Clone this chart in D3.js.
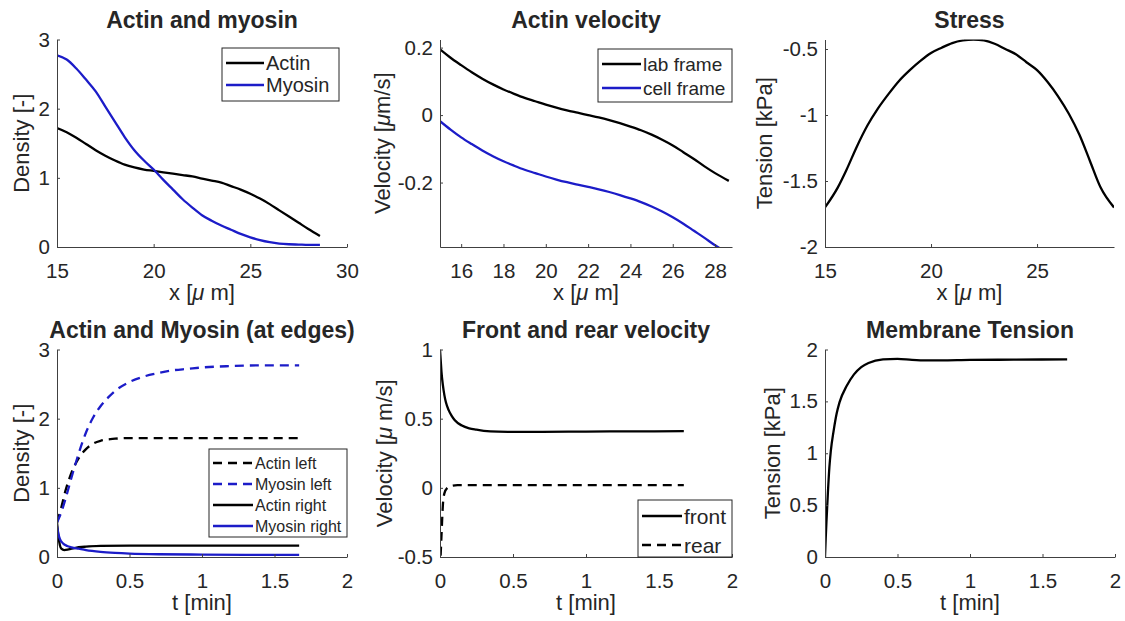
<!DOCTYPE html>
<html>
<head>
<meta charset="utf-8">
<script src="https://cdn.jsdelivr.net/npm/d3@7"></script>
<style>
body { margin:0; background:#fff; }
svg text { font-family:"Liberation Sans", Arial, Helvetica, sans-serif; fill:#262626; }
</style>
</head>
<body>
<svg id="fig" width="1125" height="621"></svg>
<script>
// ---- dados ----
// posicao x [um] (linha de cima)
var xDens = [15,15.5,16,16.5,17,17.5,18,18.5,19,19.5,20,20.5,21,21.5,22,22.5,23,23.5,24,24.5,25,25.5,26,26.5,27,27.5,28,28.6];
var actinDens = [1.72,1.66,1.58,1.49,1.40,1.32,1.25,1.19,1.15,1.12,1.10,1.08,1.06,1.04,1.02,0.99,0.96,0.93,0.88,0.83,0.77,0.70,0.62,0.53,0.44,0.35,0.26,0.16];
var myosinDens = [2.77,2.71,2.58,2.42,2.25,2.03,1.81,1.59,1.40,1.25,1.12,0.97,0.83,0.69,0.57,0.46,0.38,0.31,0.25,0.19,0.14,0.10,0.07,0.05,0.04,0.035,0.03,0.03];

var xVel = [15,15.5,16,16.5,17,17.5,18,18.5,19,19.5,20,20.5,21,21.5,22,22.5,23,23.5,24,24.5,25,25.5,26,26.5,27,27.5,28,28.65];
var labVel = [0.195,0.17,0.148,0.127,0.108,0.091,0.076,0.063,0.051,0.041,0.031,0.022,0.014,0.007,0.0,-0.007,-0.015,-0.024,-0.034,-0.045,-0.058,-0.073,-0.09,-0.11,-0.13,-0.152,-0.172,-0.195];
var cellVel = [-0.018,-0.043,-0.066,-0.086,-0.105,-0.122,-0.137,-0.150,-0.162,-0.172,-0.182,-0.191,-0.199,-0.206,-0.213,-0.220,-0.228,-0.237,-0.247,-0.258,-0.271,-0.286,-0.303,-0.322,-0.343,-0.364,-0.386,-0.41];

var xStress = [15,15.6,16,16.5,17,17.5,18,18.5,19,19.5,20,20.5,21,21.5,22,22.5,23,23.5,24,24.5,25,25.5,26,26.5,27,27.5,28,28.63];
var stress = [-1.70,-1.55,-1.42,-1.24,-1.08,-0.95,-0.84,-0.74,-0.66,-0.59,-0.53,-0.49,-0.455,-0.435,-0.428,-0.435,-0.46,-0.50,-0.54,-0.60,-0.66,-0.75,-0.86,-0.99,-1.15,-1.35,-1.55,-1.70];

// tempo [min] (linha de baixo)
var tActL = [0,0.03,0.06,0.1,0.15,0.2,0.25,0.3,0.4,0.5,0.7,1.0,1.3,1.67];
var actinLeft = [0.5,0.72,0.97,1.22,1.43,1.56,1.64,1.68,1.71,1.72,1.72,1.72,1.72,1.72];
var tMyoL = [0,0.03,0.06,0.1,0.15,0.2,0.25,0.3,0.35,0.4,0.5,0.6,0.7,0.8,0.9,1.0,1.2,1.4,1.67];
var myosinLeft = [0.5,0.65,0.85,1.15,1.5,1.8,2.02,2.18,2.3,2.4,2.53,2.61,2.66,2.7,2.72,2.74,2.76,2.77,2.77];
var tActR = [0,0.01,0.02,0.03,0.05,0.08,0.12,0.2,0.3,0.5,1.0,1.67];
var actinRight = [0.5,0.3,0.17,0.12,0.1,0.11,0.13,0.15,0.16,0.165,0.165,0.165];
var tMyoR = [0,0.01,0.02,0.04,0.07,0.1,0.15,0.2,0.3,0.4,0.5,0.7,1.0,1.3,1.67];
var myosinRight = [0.45,0.33,0.26,0.2,0.16,0.14,0.12,0.1,0.075,0.06,0.05,0.04,0.035,0.032,0.03];

var tFront = [0,0.005,0.01,0.02,0.03,0.04,0.06,0.08,0.1,0.15,0.2,0.25,0.3,0.4,0.5,0.7,1.0,1.3,1.67];
var front = [1.0,0.92,0.84,0.74,0.67,0.62,0.56,0.52,0.49,0.45,0.43,0.42,0.412,0.406,0.405,0.405,0.407,0.408,0.41];
var tRear = [0,0.01,0.02,0.03,0.05,0.08,0.12,0.3,0.6,1.0,1.3,1.67];
var rear = [-0.6,-0.35,-0.12,-0.04,0.0,0.015,0.02,0.02,0.02,0.02,0.02,0.02];

var tTens = [0,0.005,0.01,0.02,0.03,0.04,0.06,0.08,0.1,0.15,0.2,0.25,0.3,0.4,0.5,0.6,0.7,0.8,1.0,1.3,1.67];
var tension = [0,0.18,0.34,0.62,0.86,1.02,1.22,1.38,1.49,1.65,1.76,1.83,1.87,1.905,1.91,1.9,1.895,1.895,1.9,1.902,1.905];

// ticks
var xTicksDens = [15,20,25,30];
var yTicksDens = [0,1,2,3];
var xTicksVel = [16,18,20,22,24,26,28];
var yTicksVel = [-0.2,0,0.2];
var xTicksStress = [15,20,25];
var yTicksStress = [-2,-1.5,-1,-0.5];
var tTicks = [0,0.5,1,1.5,2];
var yTicksEdge = [0,1,2,3];
var yTicksFR = [-0.5,0,0.5,1];
var yTicksTens = [0,0.5,1,1.5,2];

var BLUE = "#1c1cc8";
var AXC = "#404040";
var DASH = "9,6";

var svg = d3.select("#fig");

// rotulos com o mu: [antes, depois]
var panels = [
    {left:57, top:39.5, w:290, h:207.5, xdom:[15,30], ydom:[0,3], xt:xTicksDens, yt:yTicksDens,
     title:"Actin and myosin", xlab:["x [", " m]"], ylab:["Density [-]"], ylx:-36,
     series:[{x:xDens, y:actinDens, c:"#000"}, {x:xDens, y:myosinDens, c:BLUE}],
     legend:{x:222, y:48, w:117, h:53, fs:20, rows:[15,37], ll:38, items:[["Actin","#000",null],["Myosin",BLUE,null]]}},
    {left:440, top:39.5, w:292, h:207.5, xdom:[15,28.8], ydom:[-0.391,0.224], xt:xTicksVel, yt:yTicksVel,
     title:"Actin velocity", xlab:["x [", " m]"], ylab:["Velocity [", "m/s]"], ylx:-58,
     series:[{x:xVel, y:labVel, c:"#000"}, {x:xVel, y:cellVel, c:BLUE}],
     legend:{x:598, y:49, w:134, h:53, fs:19, rows:[15,39], ll:39, items:[["lab frame","#000",null],["cell frame",BLUE,null]]}},
    {left:825, top:39.5, w:289, h:207.5, xdom:[15,28.63], ydom:[-2,-0.428], xt:xTicksStress, yt:yTicksStress,
     title:"Stress", xlab:["x [", " m]"], ylab:["Tension [kPa]"], ylx:-61,
     series:[{x:xStress, y:stress, c:"#000"}]},
    {left:57, top:349.5, w:290, h:207.5, xdom:[0,2], ydom:[0,3], xt:tTicks, yt:yTicksEdge,
     title:"Actin and Myosin (at edges)", xlab:["t [min]"], ylab:["Density [-]"], ylx:-36,
     series:[{x:tActL, y:actinLeft, c:"#000", d:DASH}, {x:tMyoL, y:myosinLeft, c:BLUE, d:DASH},
             {x:tActR, y:actinRight, c:"#000"}, {x:tMyoR, y:myosinRight, c:BLUE}],
     legend:{x:209, y:449, w:138, h:88, fs:16, rows:[14,35,56,77], ll:40,
             items:[["Actin left","#000",DASH],["Myosin left",BLUE,DASH],["Actin right","#000",null],["Myosin right",BLUE,null]]}},
    {left:440, top:349.5, w:292, h:207.5, xdom:[0,2], ydom:[-0.5,1], xt:tTicks, yt:yTicksFR,
     title:"Front and rear velocity", xlab:["t [min]"], ylab:["Velocity [", " m/s]"], ylx:-56,
     series:[{x:tFront, y:front, c:"#000"}, {x:tRear, y:rear, c:"#000", d:DASH}],
     legend:{x:638, y:500, w:94, h:57, fs:21, rows:[16,45], ll:40, items:[["front","#000",null],["rear","#000",DASH]]}},
    {left:825, top:349.5, w:290, h:207.5, xdom:[0,2], ydom:[0,2], xt:tTicks, yt:yTicksTens,
     title:"Membrane Tension", xlab:["t [min]"], ylab:["Tension [kPa]"], ylx:-53,
     series:[{x:tTens, y:tension, c:"#000"}]}
];

function fmt(d) {
    return String(+d.toFixed(2));
}

// texto com mu inclinado no meio (estilo tex do matlab)
function label(sel, parts) {
    sel.append("tspan").text(parts[0]);
    if (parts.length > 1) {
        sel.append("tspan").style("font-style", "italic").text("\u03bc");
        sel.append("tspan").text(parts[1]);
    }
}

panels.forEach(function(p, i) {
    var g = svg.append("g").attr("transform", "translate(" + p.left + "," + p.top + ")");
    var xs = d3.scaleLinear().domain(p.xdom).range([0, p.w]);
    var ys = d3.scaleLinear().domain(p.ydom).range([p.h, 0]);

    g.append("clipPath").attr("id", "clip" + i)
        .append("rect").attr("width", p.w).attr("height", p.h);

    var line = d3.line()
        .x(function(d) { return xs(d[0]); })
        .y(function(d) { return ys(d[1]); })
        .curve(d3.curveMonotoneX);

    var plot = g.append("g").attr("clip-path", "url(#clip" + i + ")");
    p.series.forEach(function(s) {
        plot.append("path")
            .datum(d3.zip(s.x, s.y))
            .attr("d", line)
            .attr("fill", "none")
            .attr("stroke", s.c)
            .attr("stroke-width", 2.3)
            .attr("stroke-dasharray", s.d || null);
    });

    var xa = g.append("g").attr("transform", "translate(0," + p.h + ")")
        .call(d3.axisBottom(xs).tickValues(p.xt).tickFormat(fmt).tickSizeInner(-3).tickSizeOuter(0).tickPadding(16));
    var ya = g.append("g")
        .call(d3.axisLeft(ys).tickValues(p.yt).tickFormat(fmt).tickSizeInner(-3).tickSizeOuter(0).tickPadding(7));
    [xa, ya].forEach(function(a) {
        a.select(".domain").attr("stroke", AXC);
        a.selectAll(".tick line").attr("stroke", AXC);
        a.selectAll(".tick text").style("font-size", "20.5px").attr("fill", "#262626");
    });

    // titulo
    g.append("text")
        .attr("x", p.w / 2).attr("y", -12)
        .attr("text-anchor", "middle")
        .style("font-size", "23px").style("font-weight", "bold")
        .attr("fill", "#000")
        .text(p.title);

    g.append("text")
        .attr("x", p.w / 2).attr("y", p.h + 53)
        .attr("text-anchor", "middle")
        .style("font-size", "22px")
        .call(label, p.xlab);

    g.append("text")
        .attr("transform", "translate(" + p.ylx + "," + (p.h / 2) + ") rotate(-90)")
        .attr("text-anchor", "middle")
        .attr("dominant-baseline", "central")
        .style("font-size", "22px")
        .call(label, p.ylab);

    if (p.legend) {
        var L = p.legend;
        var lg = svg.append("g").attr("transform", "translate(" + L.x + "," + L.y + ")");
        lg.append("rect").attr("width", L.w).attr("height", L.h)
            .attr("fill", "#fff").attr("stroke", "#262626").attr("stroke-width", 1);
        L.items.forEach(function(it, k) {
            lg.append("line")
                .attr("x1", 4).attr("x2", 4 + L.ll)
                .attr("y1", L.rows[k]).attr("y2", L.rows[k])
                .attr("stroke", it[1]).attr("stroke-width", 2.3)
                .attr("stroke-dasharray", it[2]);
            lg.append("text")
                .attr("x", 6 + L.ll).attr("y", L.rows[k])
                .attr("dominant-baseline", "central")
                .style("font-size", L.fs + "px")
                .attr("fill", "#000")
                .text(it[0]);
        });
    }
});
</script>
</body>
</html>
